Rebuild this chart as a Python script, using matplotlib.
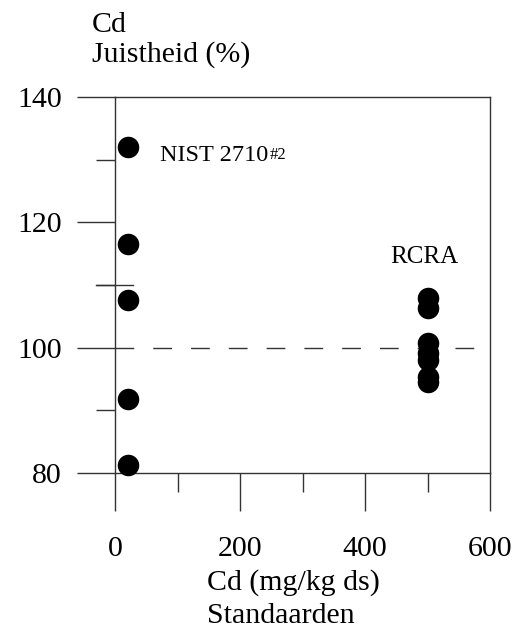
import matplotlib
matplotlib.use("Agg")
import matplotlib.pyplot as plt
from matplotlib.ticker import MultipleLocator

plt.rcParams['font.family'] = ['Liberation Serif', 'DejaVu Serif']

# Cd recoveries per reference material
nist_conc = [20, 20, 20, 20, 20]
nist_recovery = [132.0, 116.6, 107.6, 91.8, 81.3]
rcra_conc = [500, 500, 500, 500, 500, 500, 500]
rcra_recovery = [108.0, 106.4, 100.8, 99.2, 98.0, 95.3, 94.6]

x_major = [0, 200, 400, 600]
y_major = [80, 100, 120, 140]
target = 100

line_col = '#333333'

fig = plt.figure(figsize=(5.2, 6.35), dpi=100)
ax = fig.add_axes([115 / 520, 162 / 635, 375 / 520, 376 / 635])

ax.plot(nist_conc, nist_recovery, 'o', color='black', markersize=14.5, clip_on=False, zorder=3)
ax.plot(rcra_conc, rcra_recovery, 'o', color='black', markersize=14.5, clip_on=False, zorder=3)

# 100% reference line
ax.plot([0, 600], [target, target], color=line_col, lw=1.0, dashes=(13.5, 13.7))
# short stub crossing the axis at 110
ax.plot([-30, 29], [110, 110], color=line_col, lw=1.0, clip_on=False)

ax.set_xlim(0, 600)
ax.set_ylim(80, 140)
ax.set_xticks(x_major)
ax.set_yticks(y_major)
ax.xaxis.set_minor_locator(MultipleLocator(100))
ax.yaxis.set_minor_locator(MultipleLocator(10))

ax.tick_params(which='major', direction='out', length=27.4, width=1.0, color=line_col,
               labelsize=21.5)
ax.tick_params(which='minor', direction='out', length=13.7, width=1.0, color=line_col)
ax.tick_params(axis='x', which='major', pad=18)
ax.tick_params(axis='y', which='major', pad=11)
for sp in ax.spines.values():
    sp.set_color(line_col)
    sp.set_linewidth(1.0)

nist_label = ax.text(72, 130.7, 'NIST 2710', fontsize=17.5, va='center', ha='left')
ax.annotate('#2', xy=(1, 1), xycoords=nist_label, xytext=(1, -1.5),
            textcoords='offset points', fontsize=12, va='top', ha='left')
ax.text(440, 114.4, 'RCRA', fontsize=18, va='center', ha='left')

fig.text(92 / 520, 1 - 32 / 635, 'Cd', fontsize=21.5, va='baseline', ha='left')
fig.text(92 / 520, 1 - 62 / 635, 'Juistheid (%)', fontsize=21.5, va='baseline', ha='left')
fig.text(207 / 520, 1 - 590 / 635, 'Cd (mg/kg ds)', fontsize=21.5, va='baseline', ha='left')
fig.text(207 / 520, 1 - 623 / 635, 'Standaarden', fontsize=21.5, va='baseline', ha='left')

fig.savefig('out.png', dpi=100)
